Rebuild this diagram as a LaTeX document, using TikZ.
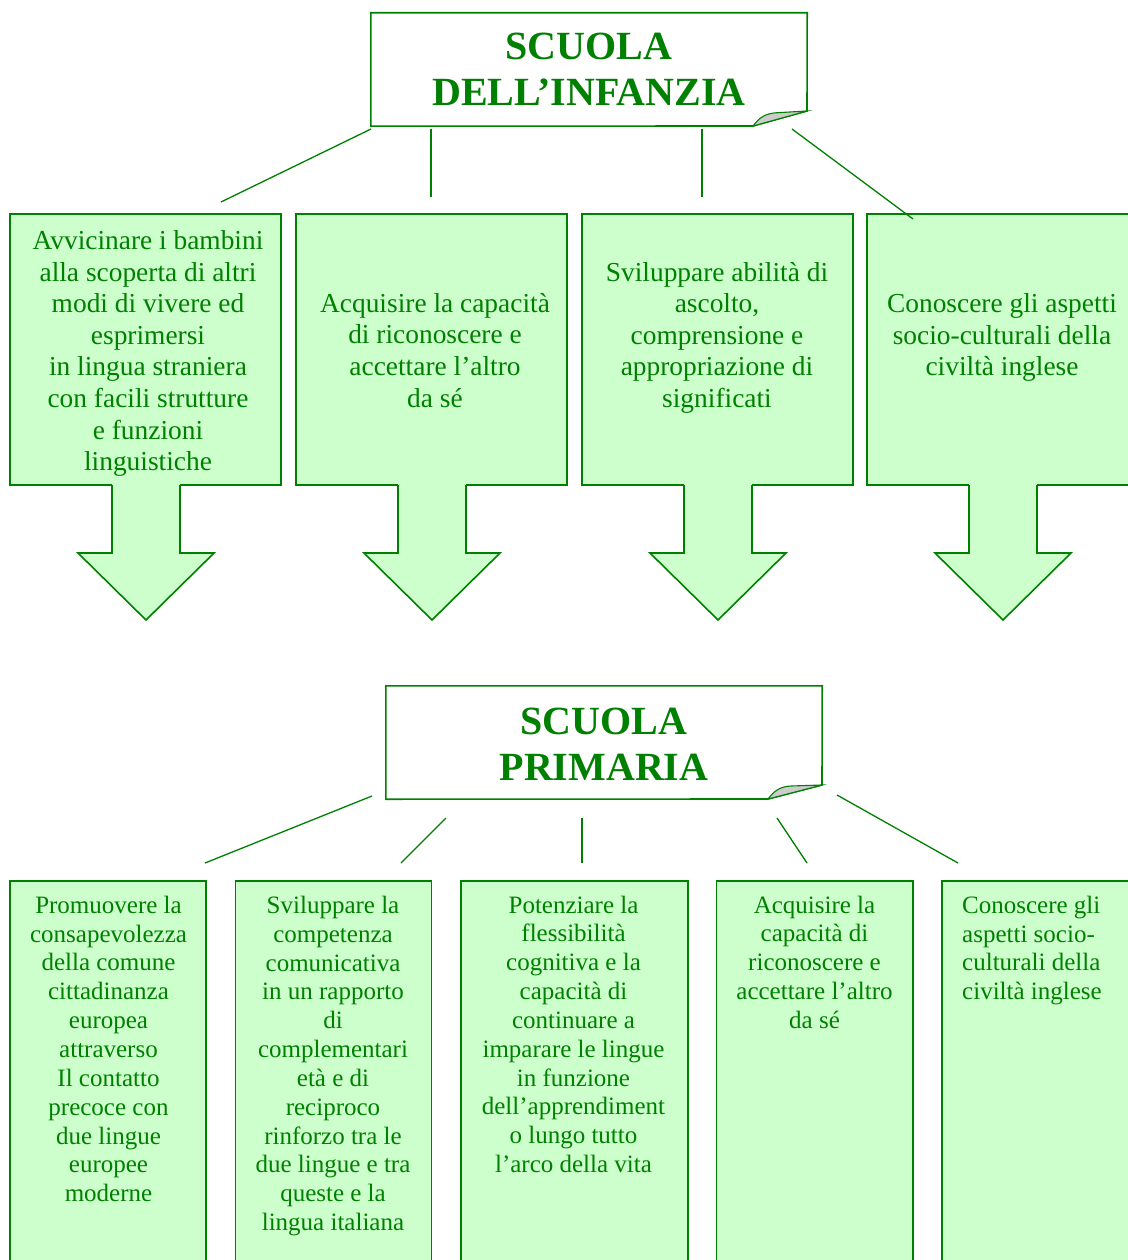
\documentclass[tikz,border=0pt]{standalone}
\usepackage{fontspec}
\setmainfont{Liberation Serif}
\definecolor{dkgreen}{RGB}{0,128,0}
\definecolor{boxfill}{RGB}{204,255,204}
\definecolor{foldgray}{RGB}{204,204,204}
\begin{document}
\begin{tikzpicture}[x=1pt,y=-1pt,
  tbox/.style={draw=dkgreen, line width=1.6pt, fill=boxfill, rectangle, inner sep=0pt},
  titleshape/.style={draw=dkgreen, line width=1.6pt, fill=white, line join=miter},
  foldshape/.style={draw=dkgreen, line width=1.1pt, fill=foldgray},
  arrowfill/.style={fill=boxfill},
  arrowline/.style={draw=dkgreen, line width=1.6pt, line join=miter},
  toptext/.style={text=dkgreen, align=center, font=\fontsize{27.4}{31.6}\selectfont, inner sep=0pt},
  bottext/.style={text=dkgreen, align=center, font=\fontsize{25}{28.85}\selectfont, inner sep=0pt},
  ttext/.style={text=dkgreen, align=center, font=\fontsize{40}{46}\selectfont\bfseries, inner sep=0pt},
  conn/.style={draw=dkgreen, line width=1.3pt},
]
\useasboundingbox[fill=white] (0,0) rectangle (1127,1260);

% ---------- Title 1 ----------
\node[minimum width=436pt, minimum height=113pt, inner sep=0pt] (t1) at (589,69.5) {};
\path[titleshape] (t1.north west) -- (t1.north east) -- (807,111) -- (753,126) -- (t1.south west) -- cycle;
\path[foldshape] (753,126) .. controls (759,118) and (765,113.5) .. (776,112.8) -- (807,111) -- cycle;
\node[ttext] (t1text) at (589,69.5) {SCUOLA\\DELL’INFANZIA};

% ---------- Top row boxes with down arrows ----------
\foreach \L [count=\i] in {10,296,582,867}{
  \node[tbox, minimum width=271pt, minimum height=271pt] (tb\i) at (\L+135.5,349.5) {};
  \fill[arrowfill] (\L+102,482) rectangle (\L+170,554);
  \fill[arrowfill] (\L+68,553) -- (\L+136,620) -- (\L+204,553) -- cycle;
  \path[arrowline] (\L+102,485) -- (\L+102,553) -- (\L+68,553) -- (\L+136,620) -- (\L+204,553) -- (\L+170,553) -- (\L+170,485);
}
\node[toptext] (tx1) at (148,353.5) {Avvicinare i bambini\\alla scoperta di altri\\modi di vivere ed\\esprimersi\\in lingua straniera\\con facili strutture\\e funzioni\\linguistiche};
\node[toptext] (tx2) at (435,350.4) {Acquisire la capacità\\di riconoscere e\\accettare l’altro\\da sé};
\node[toptext] (tx3) at (717,337.8) {Sviluppare abilità di\\ascolto,\\comprensione e\\appropriazione di\\significati};
\node[toptext] (tx4) at (1002,337.8) {Conoscere gli aspetti\\socio-culturali della\\civiltà inglese};

% connectors top
\coordinate (a1) at (371,129); \coordinate (b1) at (221,202);
\coordinate (a2) at (431,129); \coordinate (b2) at (431,197);
\coordinate (a3) at (702,129); \coordinate (b3) at (702,197);
\coordinate (a4) at (792,129); \coordinate (b4) at (913,219);
\foreach \k in {1,2,3,4}{ \path[conn] (a\k) -- (b\k); }

% ---------- Title 2 ----------
\node[minimum width=436pt, minimum height=113pt, inner sep=0pt] (t2) at (604,742.5) {};
\path[titleshape] (t2.north west) -- (t2.north east) -- (822,785) -- (768,799) -- (t2.south west) -- cycle;
\path[foldshape] (768,799) .. controls (774,791) and (780,786.5) .. (791,786) -- (822,785) -- cycle;
\node[ttext] (t2text) at (604,744) {SCUOLA\\PRIMARIA};

% ---------- Bottom row boxes ----------
\node[tbox, minimum width=196pt, minimum height=394pt] (bb1) at (108,1078) {};
\node[tbox, minimum width=196pt, minimum height=394pt] (bb2) at (333.5,1078) {};
\node[tbox, minimum width=227pt, minimum height=394pt] (bb3) at (574.5,1078) {};
\node[tbox, minimum width=196.5pt, minimum height=394pt] (bb4) at (814.75,1078) {};
\node[tbox, minimum width=197pt, minimum height=394pt] (bb5) at (1040.5,1078) {};

\node[bottext] (bt1) at (108.5,1048.9) {Promuovere la\\consapevolezza\\della comune\\cittadinanza\\europea\\attraverso\\Il contatto\\precoce con\\due lingue\\europee\\moderne};
\node[bottext] (bt2) at (333,1066) {Sviluppare la\\competenza\\comunicativa\\in un rapporto\\di\\complementari\\età e di\\reciproco\\rinforzo tra le\\due lingue e tra\\queste e la\\lingua italiana};
\node[bottext] (bt3) at (573.5,1034.3) {Potenziare la\\flessibilità\\cognitiva e la\\capacità di\\continuare a\\imparare le lingue\\in funzione\\dell’apprendiment\\o lungo tutto\\l’arco della vita};
\node[bottext] (bt4) at (814.5,962.2) {Acquisire la\\capacità di\\riconoscere e\\accettare l’altro\\da sé};
\node[bottext, align=left, anchor=west] (bt5) at (962,950.5) {Conoscere gli\\aspetti socio-\\culturali della\\civiltà inglese};

% connectors bottom
\coordinate (c1) at (372,796); \coordinate (d1) at (205,863);
\coordinate (c2) at (446,818); \coordinate (d2) at (401,863);
\coordinate (c3) at (582,818); \coordinate (d3) at (582,863);
\coordinate (c4) at (777,818); \coordinate (d4) at (807,863);
\coordinate (c5) at (837,795); \coordinate (d5) at (958,863);
\foreach \k in {1,2,3,4,5}{ \path[conn] (c\k) -- (d\k); }
\end{tikzpicture}
\end{document}
